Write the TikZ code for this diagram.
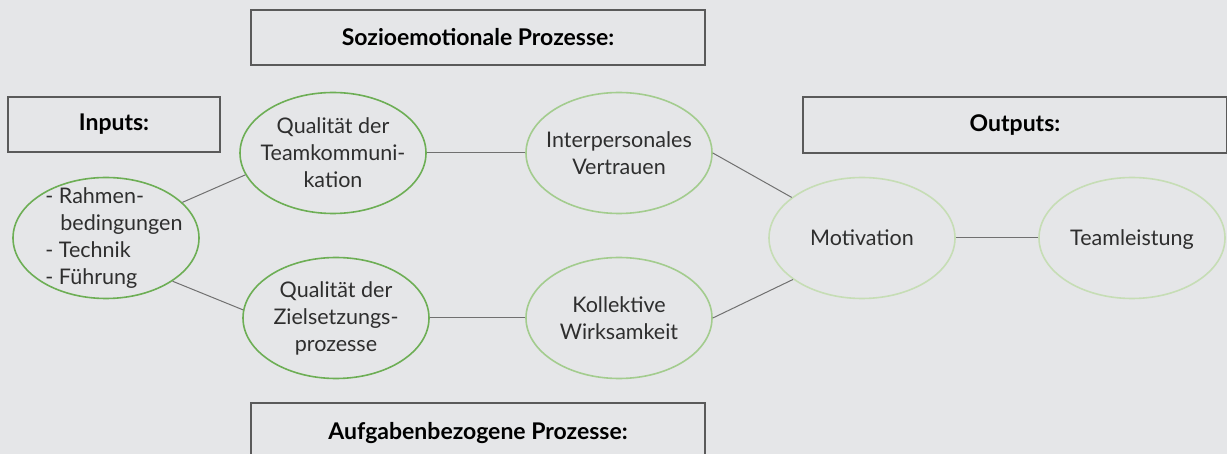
\documentclass[tikz,border=0pt]{standalone}
\usepackage{fontspec}
\setmainfont{Lato}
\usetikzlibrary{shapes.geometric}
\definecolor{bggray}{HTML}{E5E6E8}
\definecolor{darkgreen}{HTML}{6DAE55}
\definecolor{midgreen}{HTML}{A3CC8E}
\definecolor{palegreen}{HTML}{C6DDB5}
\definecolor{linegray}{HTML}{707070}
\definecolor{boxgray}{HTML}{5A5A5A}
\definecolor{txtgray}{HTML}{2E2E2E}

\begin{document}
\begin{tikzpicture}[
	x=1pt,
	y=-1pt,
	align=center,
	txt/.style={
		font=\fontsize{21.5}{27}\selectfont,
		text=txtgray,
		align=center
	},
	proc/.style={
		ellipse,
		draw,
		line width=1.6pt,
		minimum width=186pt,
		minimum height=121pt,
		inner sep=0pt
	},
	headbox/.style={
		draw=boxgray,
		line width=1.3pt,
		font=\fontsize{23}{26}\bfseries\selectfont,
		inner sep=0pt
	},
	link/.style={
		draw=linegray,
		line width=1pt
	}]

	\useasboundingbox (0,0) rectangle (1227,454);
	\fill[bggray] (0,0) rectangle (1227,454);
	\clip (0,0) rectangle (1227,454);

	% header boxes
	\node[headbox, minimum width=454pt, minimum height=55pt] (sozio) at (478,37.5) {Sozioemotionale Prozesse:};
	\node[headbox, minimum width=212pt, minimum height=55pt] (inputs) at (114,124.5) {Inputs:};
	\node[headbox, minimum width=424pt, minimum height=56pt] (outputs) at (1015,125) {Outputs:};
	\node[headbox, minimum width=454pt, minimum height=60pt] (aufgaben) at (478,433) {Aufgabenbezogene Prozesse:};

	% ellipses
	\node[proc, draw=darkgreen, label={[txt, align=left, xshift=8pt]center:- Rahmen-\\\hspace*{15pt}bedingungen\\- Technik\\- Führung}] (in) at (106,238) {};
	\node[proc, draw=darkgreen, label={[txt]center:Qualität der\\Teamkommuni-\\kation}] (tk) at (333,153) {};
	\node[proc, draw=darkgreen, label={[txt]center:Qualität der\\Zielsetzungs-\\prozesse}] (zs) at (336,318) {};
	\node[proc, draw=midgreen, label={[txt]center:Interpersonales\\Vertrauen}] (vt) at (619,153) {};
	\node[proc, draw=midgreen, label={[txt]center:Kollektive\\Wirksamkeit}] (kw) at (619,318) {};
	\node[proc, draw=palegreen, label={[txt]center:Motivation}] (mo) at (862,238) {};
	\node[proc, draw=palegreen, label={[txt, yshift=-2pt]center:Teamleistung}] (tl) at (1132,238) {};

	% connectors
	\path[link] (in.25) -- (tk.194);
	\path[link] (in.327) -- (zs.175);
	\path[link] (tk.east) -- (vt.west);
	\path[link] (zs.east) -- (kw.west);
	\path[link] (vt.east) -- (mo.150);
	\path[link] (kw.east) -- (mo.211);
	\path[link] (mo.east) -- (tl.west);
\end{tikzpicture}
\end{document}
